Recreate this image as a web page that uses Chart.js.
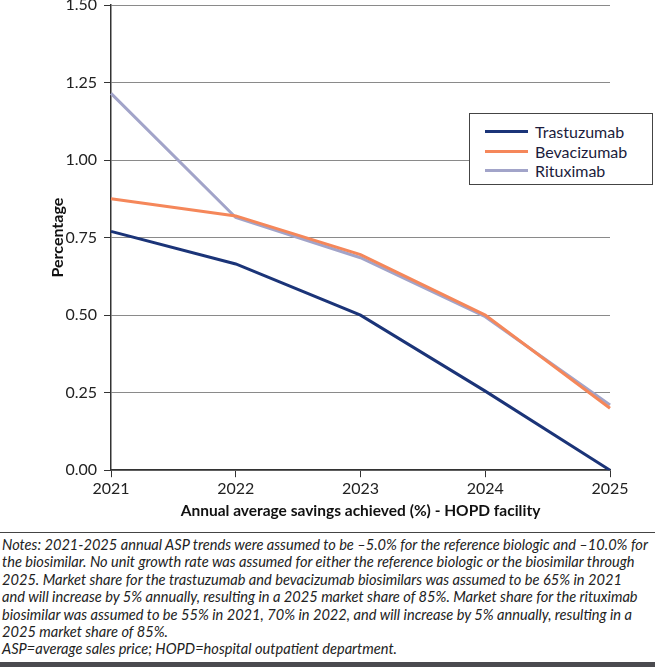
<!DOCTYPE html>
<html>
<head>
<meta charset="utf-8">
<script src="https://cdn.jsdelivr.net/npm/chart.js@4/dist/chart.umd.min.js"></script>
<style>
  html, body { margin: 0; padding: 0; background: #fff; }
  body { width: 655px; height: 667px; position: relative; overflow: hidden;
         font-family: Lato, "Open Sans", sans-serif; color: #222; }
  #chartWrap { position: absolute; left: 0; top: 0; width: 655px; height: 524px; }
  #legend { position: absolute; left: 469px; top: 113px; width: 184px; height: 72px;
            border: 1px solid #444; background: #fff; box-sizing: border-box; padding-top: 8px; }
  .lg-row { display: flex; align-items: center; height: 19.5px; font-size: 16px; color: #1c1c3c; }
  .lg-swatch { width: 43px; height: 3px; margin-left: 15px; margin-right: 7px; }
  #rule { position: absolute; left: 0; top: 532px; width: 655px; height: 0; border-top: 1.5px solid #444; }
  #notes { position: absolute; left: 2px; top: 536px; font-style: italic; font-size: 14.6px;
           line-height: 17.4px; white-space: nowrap; color: #222; }
  #bar { position: absolute; left: 0; top: 662px; width: 655px; height: 5px; background: #4a4a4f; }
</style>
</head>
<body>
<div id="chartWrap"><canvas id="chart"></canvas></div>
<div id="legend"></div>
<div id="rule"></div>
<div id="notes">
Notes: 2021-2025 annual ASP trends were assumed to be –5.0% for the reference biologic and –10.0% for<br>
the biosimilar. No unit growth rate was assumed for either the reference biologic or the biosimilar through<br>
2025. Market share for the trastuzumab and bevacizumab biosimilars was assumed to be 65% in 2021<br>
and will increase by 5% annually, resulting in a 2025 market share of 85%. Market share for the rituximab<br>
biosimilar was assumed to be 55% in 2021, 70% in 2022, and will increase by 5% annually, resulting in a<br>
2025 market share of 85%.<br>
ASP=average sales price; HOPD=hospital outpatient department.
</div>
<div id="bar"></div>

<script>
// data
const years = ['2021', '2022', '2023', '2024', '2025'];
const trastuzumab = [0.77, 0.665, 0.50, 0.255, 0.00];
const bevacizumab = [0.875, 0.82, 0.695, 0.50, 0.20];
const rituximab = [1.215, 0.815, 0.685, 0.495, 0.21];
const seriesNames = ['Trastuzumab', 'Bevacizumab', 'Rituximab'];
const seriesColors = ['#1b3478', '#f5875a', '#a2a4c9'];
const yTicks = [0, 0.25, 0.5, 0.75, 1.0, 1.25, 1.5];

const FONT = 'Lato, "Open Sans", sans-serif';

function buildLegend() {
  document.getElementById('legend').innerHTML = seriesNames.map((n, i) =>
    `<div class="lg-row"><span class="lg-swatch" style="background:${seriesColors[i]}"></span>${n}</div>`).join('');
}

function buildChart() {
  const ctx = document.getElementById('chart').getContext('2d');
  const values = [trastuzumab, bevacizumab, rituximab];
  const datasets = seriesNames.map((n, i) => ({
    label: n, data: values[i], borderColor: seriesColors[i], backgroundColor: seriesColors[i],
    borderWidth: 3, pointRadius: 0, tension: 0, fill: false,
    order: i, // trastuzumab on top, rituximab underneath
  }));

  new Chart(ctx, {
    type: 'line',
    data: { labels: years, datasets },
    options: {
      responsive: true, maintainAspectRatio: false, animation: false,
      layout: { padding: { left: 44, right: 45, top: 0, bottom: 4 } },
      plugins: { legend: { display: false }, tooltip: { enabled: false } },
      scales: {
        x: {
          offset: false,
          border: { color: '#333', width: 1.5 },
          grid: { drawOnChartArea: false, drawTicks: true, tickLength: 7, tickColor: '#333' },
          ticks: { color: '#222', font: { family: FONT, size: 16 }, padding: 2, maxRotation: 0 },
          title: { display: true, text: 'Annual average savings achieved (%) - HOPD facility',
                   color: '#111', font: { family: FONT, size: 15.5, weight: 'bold' }, padding: { top: 1, bottom: 0 } },
        },
        y: {
          min: 0, max: 1.5,
          afterBuildTicks: s => { s.ticks = yTicks.map(v => ({ value: v })); },
          afterFit: s => { s.width = 67; s.paddingTop = 5; },
          border: { color: '#333', width: 1.5 },
          grid: { color: '#8a8a8a', lineWidth: 1, drawTicks: true, tickLength: 7, tickColor: '#333' },
          ticks: { color: '#222', font: { family: FONT, size: 16 }, padding: 7, callback: v => Number(v).toFixed(2) },
          title: { display: true, text: 'Percentage', color: '#111',
                   font: { family: FONT, size: 16, weight: 'bold' }, padding: { top: 4, bottom: 4 } },
        },
      },
    },
  });
}

buildLegend();
buildChart();
</script>
</body>
</html>
